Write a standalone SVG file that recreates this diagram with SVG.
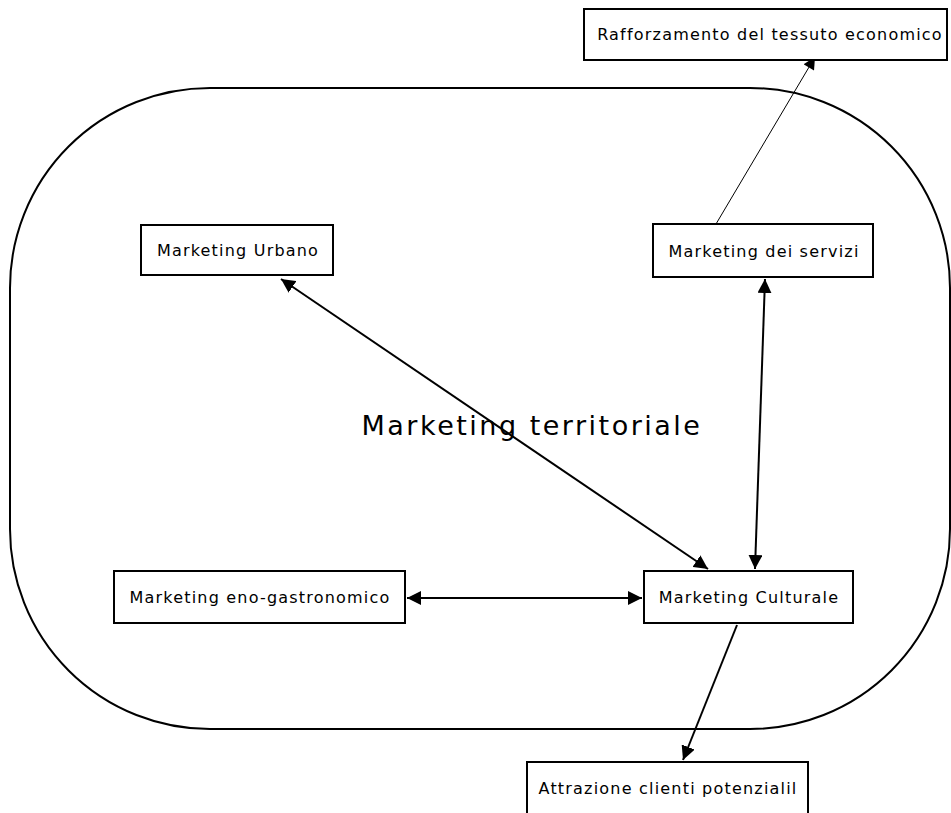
<svg xmlns="http://www.w3.org/2000/svg" width="951" height="813" viewBox="0 0 951 813">
<style>
.box{fill:#fff;stroke:#000;stroke-width:2}
.t{font-family:"DejaVu Sans",sans-serif;font-size:16px;letter-spacing:1.2px;fill:#000;text-anchor:middle;dominant-baseline:central}
.c{stroke:#000;stroke-width:2;fill:none}
.thin{stroke:#000;stroke-width:1;fill:none}
</style>
<defs>
<marker id="a" viewBox="0 0 10 10" refX="10" refY="5" markerWidth="7" markerHeight="7" markerUnits="strokeWidth" orient="auto-start-reverse"><path d="M0,0 L10,5 L0,10 z" fill="#000"/></marker>
<marker id="at" viewBox="0 0 10 10" refX="10" refY="5" markerWidth="14" markerHeight="12" markerUnits="strokeWidth" orient="auto"><path d="M0,0 L10,5 L0,10 z" fill="#000"/></marker>
</defs>
<rect x="0" y="0" width="951" height="813" fill="#fff"/>
<g id="territorio">
<rect x="10" y="88" width="940" height="641" rx="200" ry="200" fill="none" stroke="#000" stroke-width="2"/>
<text x="532" y="425" font-family="DejaVu Sans,sans-serif" font-size="27" letter-spacing="2.5" text-anchor="middle" dominant-baseline="central">Marketing territoriale</text>
</g>
<g id="connectors">
<line class="thin" x1="716" y1="224" x2="815" y2="57" marker-end="url(#at)"/>
<line class="c" x1="281" y1="279" x2="708" y2="569" marker-start="url(#a)" marker-end="url(#a)"/>
<line class="c" x1="765" y1="279" x2="755" y2="569" marker-start="url(#a)" marker-end="url(#a)"/>
<line class="c" x1="407" y1="598" x2="642" y2="598" marker-start="url(#a)" marker-end="url(#a)"/>
<line class="c" x1="737" y1="625" x2="683" y2="760" marker-end="url(#a)"/>
</g>
<g id="rafforzamento">
<rect class="box" x="584" y="9" width="363" height="51"/>
<text class="t" x="770" y="34">Rafforzamento del tessuto economico</text>
</g>
<g id="urbano">
<rect class="box" x="141" y="225" width="192" height="50"/>
<text class="t" x="238" y="250">Marketing Urbano</text>
</g>
<g id="servizi">
<rect class="box" x="653" y="224" width="220" height="53"/>
<text class="t" x="764" y="251">Marketing dei servizi</text>
</g>
<g id="eno">
<rect class="box" x="114" y="571" width="291" height="52"/>
<text class="t" x="260" y="597">Marketing eno-gastronomico</text>
</g>
<g id="culturale">
<rect class="box" x="644" y="571" width="209" height="52"/>
<text class="t" x="749" y="597">Marketing Culturale</text>
</g>
<g id="attrazione">
<rect class="box" x="527" y="762" width="281" height="60"/>
<text class="t" x="668" y="788">Attrazione clienti potenzialil</text>
</g>
</svg>
